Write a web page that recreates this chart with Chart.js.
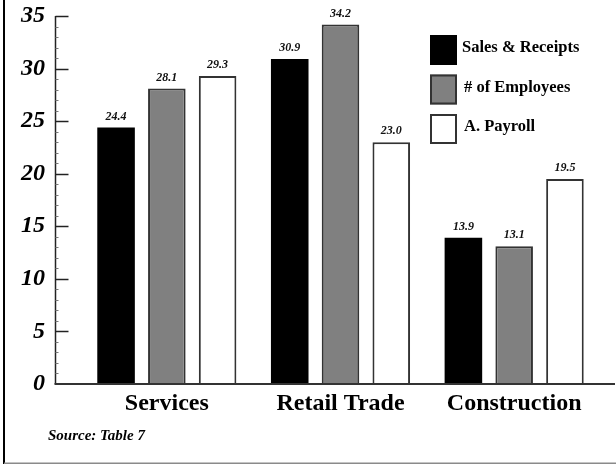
<!DOCTYPE html>
<html>
<head>
<meta charset="utf-8">
<script src="https://cdn.jsdelivr.net/npm/chart.js@4.4.1/dist/chart.umd.min.js"></script>
<style>
  html, body { margin: 0; padding: 0; background: #fff; }
  #wrap { width: 616px; height: 466px; }
</style>
</head>
<body>
<div id="wrap"><canvas id="chart" width="616" height="466"></canvas></div>
<script>
// ---- data ----
const categories    = ['Services', 'Retail Trade', 'Construction'];
const seriesNames   = ['Sales & Receipts', '# of Employees', 'A. Payroll'];
const salesReceipts = [24.4, 30.9, 13.9];
const employees     = [28.1, 34.2, 13.1];
const payroll       = [29.3, 23.0, 19.5];
const yMax  = 35;
const yStep = 5;
const sourceNote = 'Source: Table 7';

// ---- look ----
const SERIF  = "'Liberation Serif', 'Times New Roman', serif";
const FILLS  = ['#000000', '#808080', '#ffffff'];
const EDGES  = ['#000000', '#333333', '#333333'];

// white page, black rule on the left, grey rule at the bottom
const framePlugin = {
  id: 'frame',
  beforeDraw(chart) {
    const ctx = chart.ctx;
    ctx.save();
    ctx.fillStyle = '#fff';
    ctx.fillRect(0, 0, chart.width, chart.height);
    ctx.fillStyle = '#000';
    ctx.fillRect(3, 0, 2, 464);
    ctx.fillStyle = '#8a8a8a';
    ctx.fillRect(4, 462.5, chart.width - 4, 1.5);
    ctx.restore();
  }
};

// axis lines with ticks pointing into the plot
const axesPlugin = {
  id: 'axesLines',
  afterDatasetsDraw(chart) {
    const ctx = chart.ctx;
    const y = chart.scales.y;
    const axisX = 55.5;
    const y0 = y.getPixelForValue(0);
    ctx.save();
    ctx.strokeStyle = '#222';
    ctx.lineWidth = 1.5;
    ctx.beginPath();
    ctx.moveTo(axisX, y.getPixelForValue(yMax));
    ctx.lineTo(axisX, y0);
    ctx.stroke();
    // minor ticks every unit
    ctx.lineWidth = 1;
    ctx.strokeStyle = '#777';
    for (let v = 1; v < yMax; v++) {
      if (v % yStep === 0) continue;
      const py = Math.round(y.getPixelForValue(v)) + 0.5;
      ctx.beginPath();
      ctx.moveTo(axisX, py);
      ctx.lineTo(axisX + 3, py);
      ctx.stroke();
    }
    // major ticks
    ctx.lineWidth = 1.5;
    ctx.strokeStyle = '#222';
    for (let v = yStep; v <= yMax; v += yStep) {
      const py = Math.round(y.getPixelForValue(v)) + 0.5;
      ctx.beginPath();
      ctx.moveTo(axisX, py);
      ctx.lineTo(axisX + 13, py);
      ctx.stroke();
    }
    // baseline
    ctx.lineWidth = 2;
    ctx.strokeStyle = '#333';
    ctx.beginPath();
    ctx.moveTo(axisX - 1, y0);
    ctx.lineTo(chart.width - 1, y0);
    ctx.stroke();
    ctx.restore();
  }
};

// small italic numbers over each bar
const valueLabels = {
  id: 'valueLabels',
  afterDatasetsDraw(chart) {
    const ctx = chart.ctx;
    ctx.save();
    ctx.font = 'italic bold 12px ' + SERIF;
    ctx.fillStyle = '#111';
    ctx.textAlign = 'center';
    ctx.textBaseline = 'middle';
    chart.data.datasets.forEach((ds, i) => {
      chart.getDatasetMeta(i).data.forEach((bar, j) => {
        ctx.fillText(ds.data[j].toFixed(1), bar.x, bar.y - 11);
      });
    });
    ctx.restore();
  }
};

// legend boxes in the upper right plus the source line
const notesPlugin = {
  id: 'notes',
  afterDraw(chart) {
    const ctx = chart.ctx;
    ctx.save();
    chart.data.datasets.forEach((ds, i) => {
      const top = 35 + i * 39.5;
      ctx.fillStyle = ds.backgroundColor;
      ctx.fillRect(430, top, 27, 30);
      ctx.strokeStyle = ds.borderColor;
      ctx.lineWidth = 2;
      ctx.strokeRect(431, top + 1, 25, 28);
      ctx.fillStyle = '#000';
      ctx.font = 'bold 16.5px ' + SERIF;
      ctx.textAlign = 'left';
      ctx.textBaseline = 'middle';
      ctx.fillText(ds.label, i === 0 ? 462 : 464, top + 13);
    });
    ctx.font = 'italic bold 15px ' + SERIF;
    ctx.textBaseline = 'middle';
    ctx.fillText(sourceNote, 48, 436);
    ctx.restore();
  }
};

const seriesValues = [salesReceipts, employees, payroll];

new Chart(document.getElementById('chart'), {
  type: 'bar',
  data: {
    labels: categories,
    datasets: seriesNames.map((name, i) => ({
      label: name,
      data: seriesValues[i],
      backgroundColor: FILLS[i],
      borderColor: EDGES[i],
      borderWidth: i === 0 ? 0 : 2,
      borderSkipped: 'bottom',
      categoryPercentage: 0.877,
      barPercentage: 0.74
    }))
  },
  options: {
    responsive: false,
    animation: false,
    devicePixelRatio: 1,
    layout: { padding: { top: 16, right: 15, left: 0, bottom: 0 } },
    plugins: {
      legend: { display: false },
      tooltip: { enabled: false }
    },
    scales: {
      x: {
        grid: { display: false, drawTicks: false },
        border: { display: false },
        ticks: {
          color: '#000',
          padding: 5,
          font: { family: SERIF, size: 24, weight: 'bold' }
        },
        afterFit(scale) { scale.height = 82; }
      },
      y: {
        min: 0,
        max: yMax,
        grid: { display: false, drawTicks: false },
        border: { display: false },
        ticks: {
          stepSize: yStep,
          color: '#000',
          padding: 35,
          font: { family: SERIF, size: 24, weight: 'bold', style: 'italic' }
        },
        afterFit(scale) {
          // the label padding is horizontal only; keep the plot height free of it
          scale.width = 80;
          scale.paddingTop = 0;
          scale.paddingBottom = 0;
        }
      }
    }
  },
  plugins: [framePlugin, axesPlugin, valueLabels, notesPlugin]
});
</script>
</body>
</html>
